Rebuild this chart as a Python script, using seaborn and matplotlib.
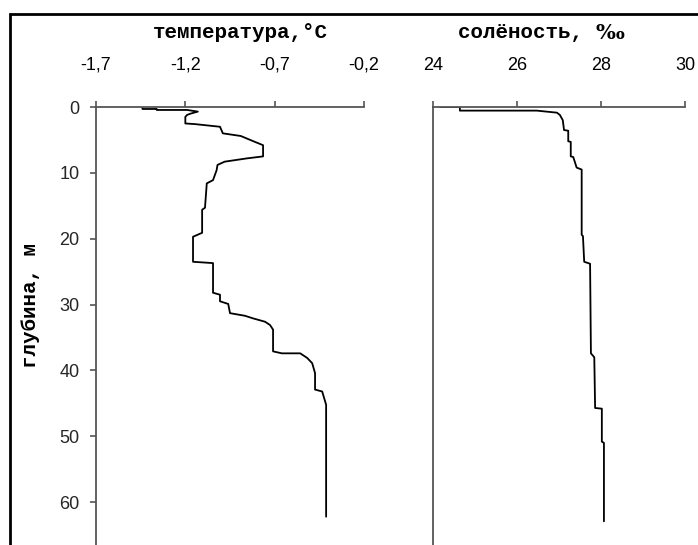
import matplotlib
matplotlib.use("Agg")
import matplotlib.pyplot as plt
import matplotlib.patches as patches
import seaborn as sns
import pandas as pd

sns.set_theme(style="white")
plt.rcParams['font.family'] = ['Liberation Sans', 'DejaVu Sans']

# temperature profile (vertices of the step trace)
temp_depth = [0.0, 0.3, 0.3, 0.45, 0.45, 0.7, 1.0, 1.2, 1.5, 2.5, 2.6, 3.0, 4.0, 4.4, 5.3, 5.8, 7.5, 7.8,
              8.3, 8.8, 9.6, 11.1, 11.6, 15.3, 15.6, 19.1, 19.7, 23.5, 23.7, 28.2, 28.5, 29.5, 29.9,
              31.3, 31.7, 32.1, 32.6, 33.1, 33.8, 37.1, 37.4, 37.4, 38.1, 38.9, 40.4, 42.9, 43.2,
              45.2, 62.2]
temp_val = [-1.44, -1.44, -1.36, -1.36, -1.19, -1.13, -1.17, -1.19, -1.20, -1.20, -1.145, -1.006,
            -0.99, -0.89, -0.81, -0.765, -0.765, -0.855, -0.98, -1.02, -1.025, -1.045, -1.08, -1.09,
            -1.106, -1.106, -1.157, -1.157, -1.045, -1.045, -1.006, -1.006, -0.96, -0.95, -0.866,
            -0.82, -0.754, -0.726, -0.709, -0.709, -0.66, -0.557, -0.518, -0.49, -0.474, -0.474,
            -0.434, -0.412, -0.412]

# salinity profile (vertices of the step trace)
sal_depth = [0.0, 0.0, 0.55, 0.55, 0.86, 1.2, 2.0, 3.5, 3.6, 5.2, 5.3, 7.5, 7.6, 9.2, 9.5, 19.4,
             19.6, 23.5, 23.8, 37.4, 38.0, 45.7, 45.8, 50.8, 51.0, 62.9]
sal_val = [24.17, 24.64, 24.64, 26.47, 26.95, 27.02, 27.09, 27.12, 27.22, 27.22, 27.28, 27.28,
           27.34, 27.42, 27.54, 27.54, 27.57, 27.60, 27.74, 27.76, 27.84, 27.86, 28.02, 28.02,
           28.07, 28.07]

temp_ticks = [-1.7, -1.2, -0.7, -0.2]
temp_ticklabels = ["-1,7", "-1,2", "-0,7", "-0,2"]
sal_ticks = [24, 26, 28, 30]
sal_ticklabels = ["24", "26", "28", "30"]
depth_ticks = [0, 10, 20, 30, 40, 50, 60]

W, H = 698, 545
fig = plt.figure(figsize=(W / 100, H / 100), dpi=100)
fig.patch.set_facecolor("white")

ymax = 66.5
ax1 = fig.add_axes([96 / W, 0.0, 268 / W, 1 - 107 / H])
ax2 = fig.add_axes([433 / W, 0.0, 252 / W, 1 - 107 / H])

df_t = pd.DataFrame({"depth": temp_depth, "t": temp_val})
df_s = pd.DataFrame({"depth": sal_depth, "s": sal_val})
sns.lineplot(data=df_t, x="t", y="depth", sort=False, estimator=None, ax=ax1, color="black", lw=1.3)
sns.lineplot(data=df_s, x="s", y="depth", sort=False, estimator=None, ax=ax2, color="black", lw=1.3)

spine_col = "#555555"
for ax, lo, hi, ticks, labels in [(ax1, -1.7, -0.2, temp_ticks, temp_ticklabels),
                                  (ax2, 24, 30, sal_ticks, sal_ticklabels)]:
    ax.set_xlim(lo, hi)
    ax.set_ylim(ymax, 0)
    ax.set_facecolor("white")
    for s in ["right", "bottom"]:
        ax.spines[s].set_visible(False)
    for s in ["top", "left"]:
        ax.spines[s].set_color(spine_col)
        ax.spines[s].set_linewidth(1.3)
    ax.xaxis.tick_top()
    ax.set_xticks(ticks)
    ax.set_xticklabels(labels)
    ax.tick_params(axis="x", direction="out", length=4, width=1.2, color=spine_col,
                   pad=20, labelsize=13, labelcolor="black", top=True, bottom=False)
    ax.set_xlabel("")
    ax.set_ylabel("")

ax1.set_yticks(depth_ticks)
ax1.set_yticklabels([str(v) for v in depth_ticks])
ax1.tick_params(axis="y", direction="out", length=4, width=1.2, color=spine_col, pad=8,
                labelsize=13, left=True)
ax2.set_yticks([])

tfont = dict(family=["Liberation Mono", "DejaVu Sans Mono"], fontsize=15, fontweight="bold",
             color="black")
fig.text(153 / W, 1 - 33 / H, "температура,°C", ha="left", va="center", **tfont)
t2 = fig.text(458 / W, 1 - 33 / H, "солёность, ", ha="left", va="center", **tfont)
ax2.annotate("‰", xy=(1, 0.5), xycoords=t2, ha="left", va="center",
             family=["DejaVu Serif"], fontsize=15, fontweight="bold", color="black",
             annotation_clip=False)
fig.text(31 / W, 1 - 306 / H, "глубина, м", ha="center", va="center", rotation=90, **tfont)

rect = patches.Rectangle((10 / W, -0.1), 1.2, 1.1 - 14 / H, transform=fig.transFigure,
                         fill=False, edgecolor="black", lw=2, clip_on=False)
fig.add_artist(rect)

fig.savefig("out.png", dpi=100, facecolor="white")
